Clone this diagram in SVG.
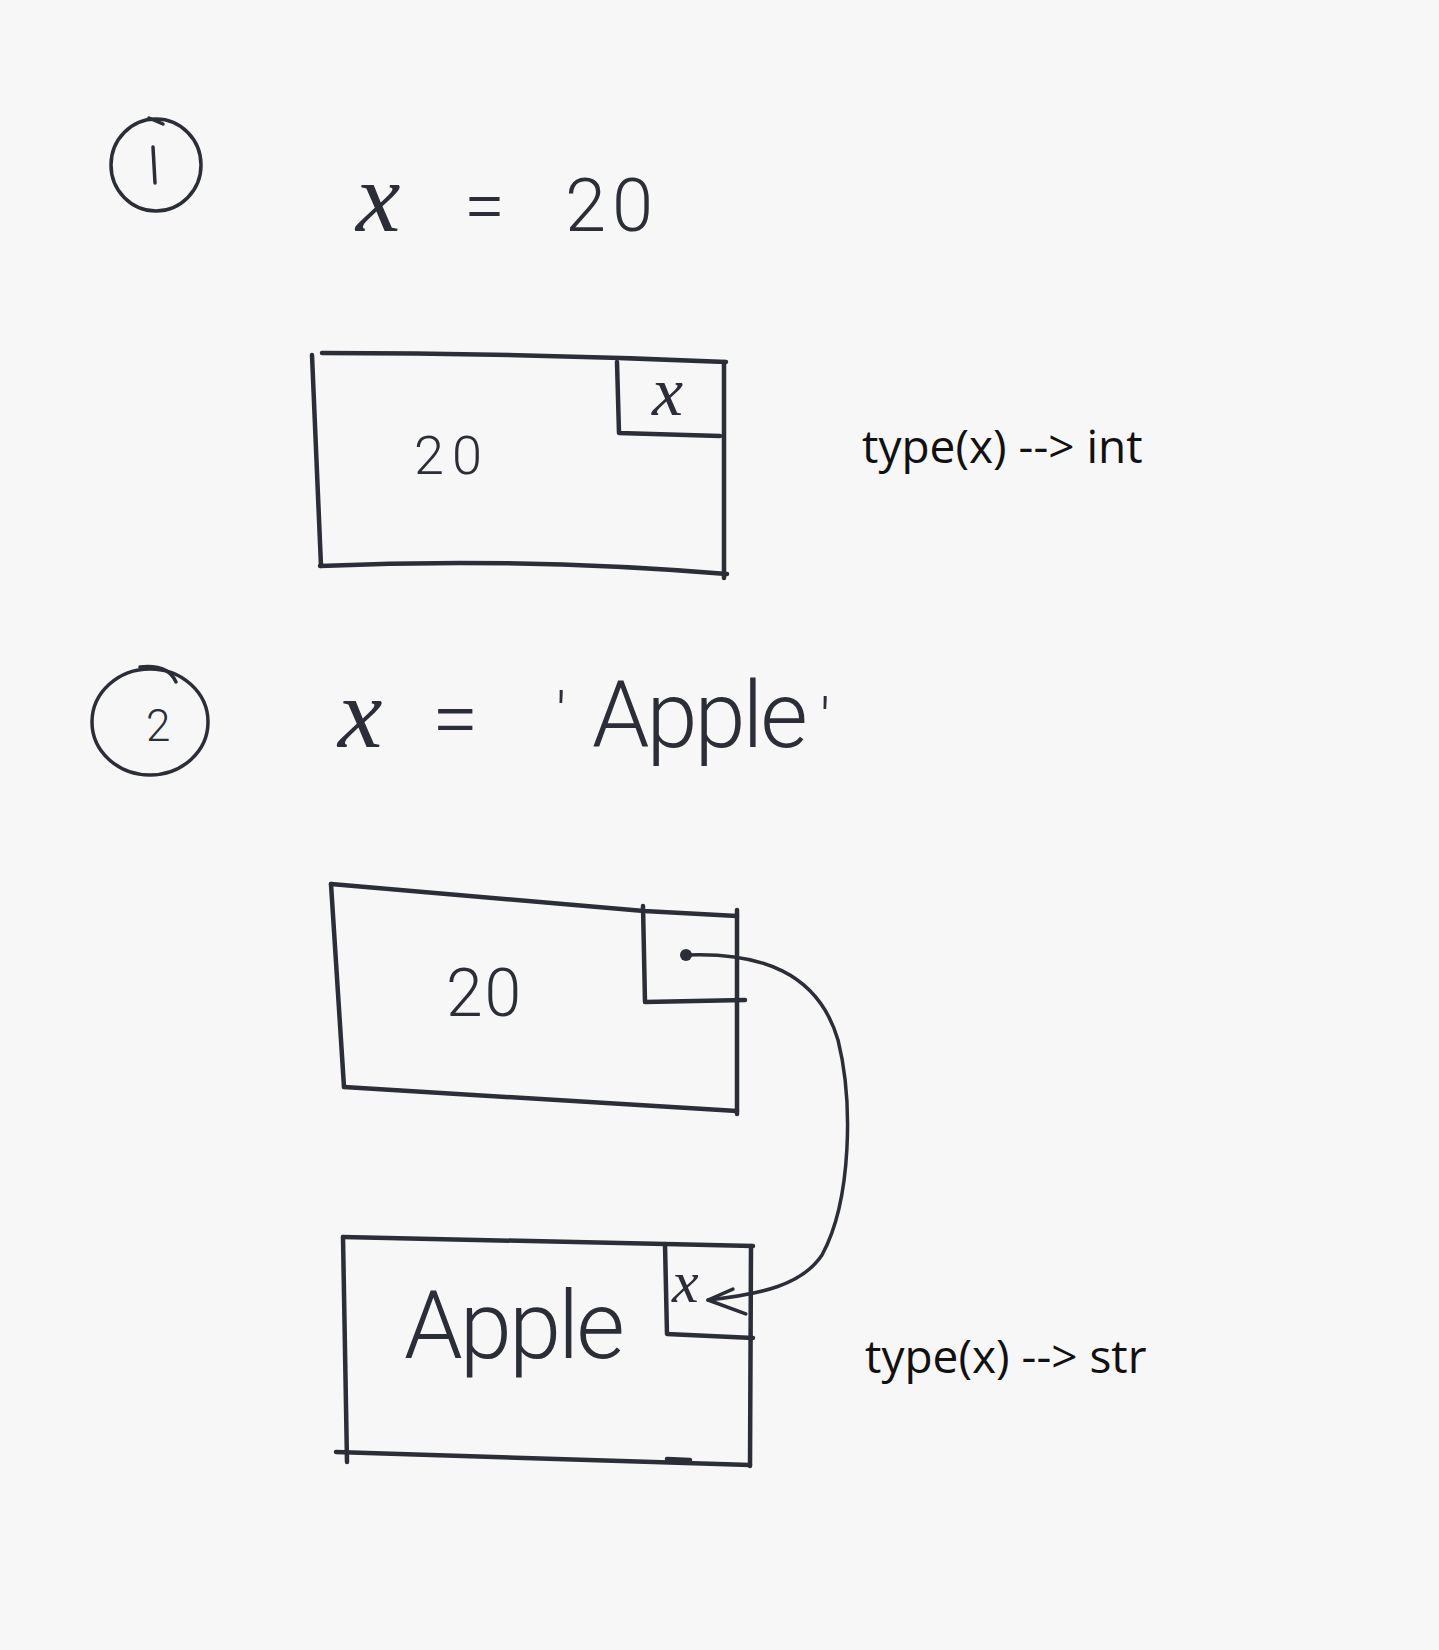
<svg xmlns="http://www.w3.org/2000/svg" width="1439" height="1650" viewBox="0 0 1439 1650">
<style>
.ink{fill:none;stroke:#2b2e36;stroke-width:4.5;stroke-linecap:round;stroke-linejoin:round}
.thin{fill:none;stroke:#2b2e36;stroke-width:3.5;stroke-linecap:round;stroke-linejoin:round}
.hand{font-family:Roboto,"Liberation Sans","DejaVu Sans",sans-serif;font-weight:300;fill:#2b2e36}
.xv{font-family:"Liberation Serif","DejaVu Serif",serif;font-style:italic;font-weight:400;fill:#2b2e36}
.type{font-family:"Open Sans","Liberation Sans",sans-serif;font-size:46px;fill:#111}
</style>
<defs>
<marker id="dot" viewBox="0 0 14 14" refX="7" refY="7" markerWidth="14" markerHeight="14" markerUnits="userSpaceOnUse">
<circle cx="7" cy="7" r="6" fill="#2b2e36"/>
</marker>
<marker id="arrow" viewBox="0 0 44 44" refX="40" refY="22" markerWidth="44" markerHeight="44" markerUnits="userSpaceOnUse" orient="auto">
<path d="M4,4 L40,22 L14,30" fill="none" stroke="#2b2e36" stroke-width="3.5" stroke-linecap="round" stroke-linejoin="round"/>
</marker>
</defs>
<rect width="1439" height="1650" fill="#f7f7f7"/>

<g id="step1">
<ellipse class="thin" cx="156" cy="165" rx="45" ry="46"/>
<path class="thin" d="M149,118 L163,124"/>
<path class="thin" d="M153,147 L155,183"/>
</g>

<g id="assign1">
<text class="hand" font-size="74" y="231"><tspan class="xv" x="356" font-size="100">x</tspan><tspan x="464">=</tspan><tspan x="565" letter-spacing="6">20</tspan></text>
</g>

<g id="box1">
<path class="ink" d="M322,353 Q520,353 726,362"/>
<path class="ink" d="M312,355 L321,566"/>
<path class="ink" d="M320,566 Q520,557 727,574"/>
<path class="ink" d="M724,362 L724,578"/>
<path class="ink" d="M617,362 L619,433 L720,436"/>
<text class="xv" x="652" y="415" font-size="70">x</text>
<text class="hand" x="414" y="474" font-size="54" letter-spacing="8">20</text>
</g>

<g id="type-int">
<text class="type" x="862" y="463">type(x) --&gt; int</text>
</g>

<g id="step2">
<ellipse class="thin" cx="150" cy="722" rx="58" ry="53"/>
<path class="thin" d="M140,667 Q168,664 176,682"/>
<text class="hand" x="146" y="741" font-size="44" font-weight="400">2</text>
</g>

<g id="assign2">
<text class="hand" font-size="74" y="747"><tspan class="xv" x="338" font-size="100">x</tspan><tspan x="432" font-size="84">=</tspan><tspan x="556" font-size="60" dy="-12">'</tspan><tspan x="592" dy="12" font-size="92" letter-spacing="-3">Apple</tspan><tspan x="820" font-size="60" dy="-6">'</tspan></text>
</g>

<g id="box2">
<path class="ink" d="M331,884 L644,911 L737,916"/>
<path class="ink" d="M331,884 L344,1087"/>
<path class="ink" d="M344,1087 L737,1111"/>
<path class="ink" d="M737,910 L737,1114"/>
<path class="ink" d="M643,906 L645,1002 L745,1000"/>
<text class="hand" x="446" y="1016" font-size="66" letter-spacing="2">20</text>
</g>

<g id="box3">
<path class="ink" d="M343,1237 L665,1244 L753,1246"/>
<path class="ink" d="M343,1237 L347,1462"/>
<path class="ink" d="M336,1452 Q540,1458 750,1465"/>
<path class="ink" d="M667,1459 L690,1460"/>
<path class="ink" d="M751,1246 L750,1466"/>
<path class="ink" d="M665,1244 L667,1334 L753,1338"/>
<text class="xv" x="672" y="1302" font-size="60">x</text>
<text class="hand" x="404" y="1358" font-size="94" letter-spacing="-3">Apple</text>
</g>

<g id="type-str">
<text class="type" x="865" y="1373">type(x) --&gt; str</text>
</g>

<g id="connectors">
<path class="thin" marker-start="url(#dot)" marker-end="url(#arrow)" d="M686,955 C760,952 818,972 838,1040 C853,1100 852,1200 822,1255 C802,1285 762,1294 708,1300"/>
</g>
</svg>
